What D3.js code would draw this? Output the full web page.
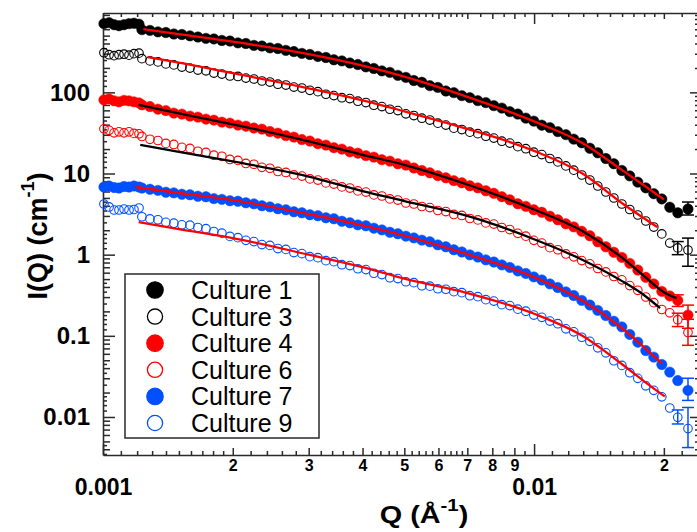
<!DOCTYPE html>
<html>
<head>
<meta charset="utf-8">
<script src="https://cdn.jsdelivr.net/npm/d3@7"></script>
<style>
  body { margin: 0; background: #fff; }
  svg { display: block; font-family: "Liberation Sans", Arial, sans-serif; }
</style>
</head>
<body>
<svg id="chart"></svg>
<script>
// Q values (1/Å) - low-Q setting and main setting
const qLow = [0.001005, 0.001033, 0.001061, 0.001089, 0.001119, 0.001149, 0.001180, 0.001212];
const qMain = [0.001231, 0.001285, 0.001341, 0.001399, 0.001460, 0.001524, 0.001591, 0.001660, 0.001733, 0.001808,
  0.001887, 0.001970, 0.002056, 0.002145, 0.002239, 0.002337, 0.002439, 0.002545, 0.002656, 0.002772,
  0.002893, 0.003019, 0.003151, 0.003289, 0.003432, 0.003582, 0.003738, 0.003901, 0.004072, 0.004249,
  0.004435, 0.004628, 0.004830, 0.005041, 0.005261, 0.005491, 0.005730, 0.005980, 0.006241, 0.006514,
  0.006798, 0.007095, 0.007404, 0.007727, 0.008065, 0.008417, 0.008784, 0.009167, 0.009567, 0.009985,
  0.01042, 0.01088, 0.01135, 0.01185, 0.01236, 0.01290, 0.01347, 0.01405, 0.01467, 0.01531,
  0.01598, 0.01667, 0.01740, 0.01816, 0.01895, 0.01978, 0.02064, 0.02154, 0.02275];

// I(Q) in cm^-1
const culture1Low = [702, 722, 682, 663, 682, 702, 711, 692];
const culture1 = [592, 580, 556, 546, 524, 516, 497, 481, 462, 455, 436, 429, 407, 400, 379, 372, 353, 347, 329, 318,
  302, 293, 277, 269, 252, 244, 230, 220, 206, 197, 184, 176, 162, 153, 140, 133, 121, 115, 104, 99.2,
  91.0, 86.0, 79.0, 74.8, 68.6, 64.0, 57.8, 54.0, 48.1, 44.2, 39.4, 36.8, 32.8, 30.1, 26.5, 23.9, 20.5, 18.0, 15.3, 13.2,
  10.9, 9.35, 7.82, 6.65, 5.64, 4.86, 3.84, 3.28, 3.65];
const culture3Low = [308, 291, 283, 291, 295, 287, 300, 304];
const culture3 = [260, 244, 237, 224, 218, 205, 199, 188, 184, 173, 168, 159, 157, 150, 146, 138, 134, 126, 123, 116,
  113, 106, 102, 94.8, 91.2, 85.9, 83.8, 77.8, 74.9, 69.4, 66.8, 61.9, 59.6, 54.4, 51.8, 48.0, 45.6, 41.7, 39.5, 36.2,
  34.8, 32.3, 31.0, 28.8, 27.3, 25.0, 23.7, 21.4, 20.2, 18.3, 17.1, 15.3, 13.9, 12.4, 11.0, 9.58, 8.31, 7.02, 5.92, 4.99,
  4.21, 3.60, 3.08, 2.60, 2.19, 1.80, 1.39, 1.21, 1.14];
const culture4Low = [80.8, 83.1, 78.6, 76.4, 79.7, 78.6, 76.4, 74.2];
const culture4 = [70.2, 66.8, 62.0, 59.6, 55.5, 53.9, 51.0, 49.5, 46.8, 45.5, 43.0, 41.8, 39.5, 38.3, 36.3, 35.2, 32.9, 31.4, 29.3, 28.1,
  26.2, 25.1, 23.3, 22.4, 20.8, 20.0, 18.5, 17.8, 16.6, 15.9, 14.8, 14.2, 13.2, 12.7, 11.7, 10.9, 10.2, 9.40, 8.85, 8.16,
  7.68, 7.07, 6.66, 6.13, 5.70, 5.18, 4.74, 4.24, 3.94, 3.58, 3.33, 2.98, 2.69, 2.40, 2.20, 1.94, 1.71, 1.44, 1.25, 1.07,
  0.925, 0.782, 0.648, 0.526, 0.436, 0.353, 0.310, 0.273, 0.180];
const culture6Low = [35.5, 34.0, 31.7, 32.6, 31.7, 32.6, 31.2, 30.8];
const culture6 = [28.6, 26.4, 25.5, 23.5, 22.8, 21.0, 20.4, 18.8, 18.2, 16.8, 16.3, 14.9, 14.5, 13.3, 13.0, 11.9, 11.6, 10.6, 10.3, 9.60,
  9.30, 8.58, 8.30, 7.66, 7.41, 6.84, 6.62, 6.10, 5.90, 5.45, 5.28, 4.86, 4.71, 4.33, 4.21, 3.92, 3.80, 3.50, 3.40, 3.13,
  3.04, 2.79, 2.68, 2.46, 2.38, 2.16, 2.04, 1.83, 1.69, 1.50, 1.39, 1.22, 1.15, 1.02, 0.940, 0.845, 0.770, 0.675, 0.613, 0.538,
  0.490, 0.416, 0.364, 0.301, 0.256, 0.211, 0.192, 0.158, 0.110];
const culture7Low = [6.82, 7.02, 6.72, 6.62, 6.92, 6.82, 7.02, 6.82];
const culture7 = [6.62, 6.40, 6.20, 5.88, 5.78, 5.55, 5.47, 5.25, 5.17, 4.90, 4.80, 4.62, 4.55, 4.36, 4.23, 4.01, 3.88, 3.68, 3.57, 3.38,
  3.28, 3.10, 3.02, 2.85, 2.77, 2.58, 2.47, 2.33, 2.27, 2.12, 2.02, 1.89, 1.81, 1.69, 1.61, 1.51, 1.44, 1.32, 1.25, 1.15,
  1.08, 0.995, 0.935, 0.862, 0.812, 0.748, 0.696, 0.630, 0.587, 0.532, 0.488, 0.436, 0.394, 0.348, 0.314, 0.273, 0.240, 0.206, 0.178, 0.151,
  0.129, 0.104, 0.0835, 0.0658, 0.0547, 0.0443, 0.0357, 0.0281, 0.0213];
const culture9Low = [4.21, 3.87, 3.55, 3.55, 3.65, 3.55, 3.60, 3.76];
const culture9 = [2.93, 2.76, 2.69, 2.50, 2.44, 2.33, 2.31, 2.16, 2.09, 1.93, 1.84, 1.68, 1.62, 1.50, 1.45, 1.33, 1.30, 1.19, 1.16, 1.06,
  1.03, 0.945, 0.918, 0.843, 0.820, 0.752, 0.733, 0.671, 0.655, 0.590, 0.568, 0.520, 0.507, 0.464, 0.452, 0.414, 0.409, 0.380, 0.375, 0.350,
  0.340, 0.312, 0.304, 0.279, 0.268, 0.242, 0.236, 0.213, 0.201, 0.180, 0.169, 0.152, 0.141, 0.122, 0.112, 0.0960, 0.0855, 0.0712, 0.0617, 0.0493,
  0.0432, 0.0351, 0.0299, 0.0242, 0.0213, 0.0177, 0.0129, 0.0099, 0.0072];

// error bars on the last points: [index in qMain, low, high]
const culture1Err = [[68, 3.08, 4.45]];
const culture3Err = [[67, 1.00, 1.45], [68, 0.72, 1.60]];
const culture4Err = [[67, 0.23, 0.32], [68, 0.124, 0.239]];
const culture6Err = [[67, 0.13, 0.19], [68, 0.0764, 0.160]];
const culture7Err = [[68, 0.016, 0.030]];
const culture9Err = [[67, 0.0082, 0.0122], [68, 0.0042, 0.0131]];

// model fits
const fitQ1 = [0.00124, 0.0015, 0.002, 0.003, 0.004, 0.005, 0.007, 0.01, 0.013, 0.016, 0.018, 0.020];
const fitI1 = [600, 521, 421, 295, 213, 156, 88.0, 43.9, 23.5, 11.0, 7.11, 4.78];
const fitQ3 = [0.00127, 0.0015, 0.002, 0.003, 0.004, 0.005, 0.007, 0.01, 0.013, 0.016, 0.0193];
const fitI3 = [271, 232, 172, 112, 79.7, 58.3, 35.5, 19.0, 9.86, 4.3, 2.19];
const fitQ4 = [0.00121, 0.0015, 0.002, 0.003, 0.004, 0.005, 0.007, 0.01, 0.013, 0.016, 0.018, 0.020, 0.0214];
const fitI4 = [70.2, 55.1, 40.3, 24.9, 17.0, 12.8, 7.32, 3.60, 1.93, 0.918, 0.543, 0.345, 0.291];
const fitQ6 = [0.00122, 0.0015, 0.002, 0.003, 0.004, 0.005, 0.007, 0.01, 0.013, 0.016, 0.018, 0.0196];
const fitI6 = [22.5, 18.5, 14.1, 9.18, 6.08, 4.58, 3.00, 1.55, 0.855, 0.472, 0.3165, 0.219];
const fitQ7 = [0.00119, 0.0015, 0.002, 0.003, 0.004, 0.005, 0.007, 0.01, 0.013, 0.016, 0.018, 0.0198];
const fitI7 = [6.82, 5.75, 4.71, 3.17, 2.30, 1.72, 1.015, 0.529, 0.268, 0.124, 0.0722, 0.0458];
const fitQ9 = [0.00121, 0.0015, 0.002, 0.003, 0.004, 0.005, 0.007, 0.01, 0.013, 0.016, 0.018, 0.0201];
const fitI9 = [2.525, 2.07, 1.60, 1.00, 0.702, 0.506, 0.3355, 0.187, 0.0986, 0.0446, 0.0275, 0.0179];

const legendLabels = ["Culture 1", "Culture 3", "Culture 4", "Culture 6", "Culture 7", "Culture 9"];

// tick labels
const yTickValues = [0.01, 0.1, 1, 10, 100];
const yTickLabels = ["0.01", "0.1", "1", "10", "100"];
const xMajorValues = [0.001, 0.01];
const xMajorLabels = ["0.001", "0.01"];
const xMidValues = [0.002, 0.003, 0.004, 0.005, 0.006, 0.007, 0.008, 0.009, 0.02];
const xMidLabels = ["2", "3", "4", "5", "6", "7", "8", "9", "2"];

const FONT = '"Liberation Sans", Arial, sans-serif';

class ScatteringPlot {
    constructor(_config, _series, _fits) {
        this.config = {
            parentElement: _config.parentElement,
            containerWidth: _config.containerWidth || 697,
            containerHeight: _config.containerHeight || 532,
            plot: _config.plot || { left: 103, right: 698, top: 13, bottom: 455 },
        };
        this.series = _series;
        this.fits = _fits;
        this.initVis();
    }

    initVis() {
        let vis = this;
        let p = vis.config.plot;

        vis.svg = d3.select(vis.config.parentElement)
            .attr("width", vis.config.containerWidth)
            .attr("height", vis.config.containerHeight);

        vis.x = d3.scaleLog().domain([0.001, 0.024]).range([p.left, p.right]);
        vis.y = d3.scaleLog().domain([0.0034, 950]).range([p.bottom, p.top]);

        // Igor-like log subdivisions: [from, to, step] on the mantissa
        vis.xTicks = vis.buildTicks(vis.x.domain(), [[1, 2, 0.1], [2, 7, 0.2], [7, 10, 0.5]]);
        vis.yTicks = vis.buildTicks(vis.y.domain(), [[1, 2, 0.2], [2, 5, 0.5], [5, 10, 1]]);

        vis.renderVis();
    }

    buildTicks(domain, steps) {
        let major = [], mid = [], minor = [];
        let k0 = Math.floor(Math.log10(domain[0])), k1 = Math.ceil(Math.log10(domain[1]));
        for (let k = k0; k <= k1; k++) {
            let p = Math.pow(10, k);
            steps.forEach(([a, b, s]) => {
                for (let m = a; m < b - 1e-9; m += s) {
                    let mm = Math.round(m * 100) / 100;
                    let v = mm * p;
                    if (v < domain[0] || v > domain[1]) continue;
                    if (mm === 1) major.push(v);
                    else if (Math.abs(mm - Math.round(mm)) < 1e-9) mid.push(v);
                    else minor.push(v);
                }
            });
        }
        return { major, mid, minor };
    }

    styleAxis(g, keepDomain) {
        g.attr("color", "#2a2a2a");
        g.selectAll("line").attr("stroke-width", 1.5);
        g.select(".domain").attr("stroke-width", 1.6);
        if (!keepDomain) g.select(".domain").remove();
    }

    drawAxes() {
        let vis = this;
        let p = vis.config.plot;
        let xt = vis.xTicks, yt = vis.yTicks;

        // left
        [[yt.minor, 4], [yt.mid, 7]].forEach(([vals, len]) => {
            vis.svg.append("g").attr("transform", `translate(${p.left},0)`)
                .call(d3.axisLeft(vis.y).tickValues(vals).tickSize(-len).tickSizeOuter(0).tickFormat(""))
                .call(g => vis.styleAxis(g, false));
        });
        vis.svg.append("g").attr("transform", `translate(${p.left},0)`)
            .call(d3.axisLeft(vis.y).tickValues(yTickValues).tickSize(-12).tickSizeOuter(0).tickPadding(13)
                .tickFormat((d, i) => yTickLabels[i]))
            .call(g => vis.styleAxis(g, true))
            .call(g => g.selectAll("text").attr("fill", "#000").attr("font-size", 24)
                .attr("font-weight", "bold").attr("font-family", FONT));

        // right (mostly outside the picture)
        [[yt.minor, 4], [yt.mid, 7], [yTickValues, 12]].forEach(([vals, len], i) => {
            vis.svg.append("g").attr("transform", `translate(${p.right + 4},0)`)
                .call(d3.axisRight(vis.y).tickValues(vals).tickSize(-len).tickSizeOuter(0).tickFormat(""))
                .call(g => vis.styleAxis(g, i === 2));
        });

        // top
        [[xt.minor, 4], [xt.mid, 6], [xt.major, 11]].forEach(([vals, len], i) => {
            vis.svg.append("g").attr("transform", `translate(0,${p.top})`)
                .call(d3.axisTop(vis.x).tickValues(vals).tickSize(-len).tickSizeOuter(0).tickFormat(""))
                .call(g => vis.styleAxis(g, i === 2));
        });

        // bottom
        vis.svg.append("g").attr("transform", `translate(0,${p.bottom})`)
            .call(d3.axisBottom(vis.x).tickValues(xt.minor).tickSize(-4).tickSizeOuter(0).tickFormat(""))
            .call(g => vis.styleAxis(g, false));
        vis.svg.append("g").attr("transform", `translate(0,${p.bottom})`)
            .call(d3.axisBottom(vis.x).tickValues(xMidValues).tickSize(-7).tickSizeOuter(0).tickPadding(5)
                .tickFormat((d, i) => xMidLabels[i]))
            .call(g => vis.styleAxis(g, false))
            .call(g => g.selectAll("text").attr("fill", "#000").attr("font-size", 16)
                .attr("font-weight", "bold").attr("font-family", FONT));
        vis.svg.append("g").attr("transform", `translate(0,${p.bottom})`)
            .call(d3.axisBottom(vis.x).tickValues(xMajorValues).tickSize(-11).tickSizeOuter(0).tickPadding(24)
                .tickFormat((d, i) => xMajorLabels[i]))
            .call(g => vis.styleAxis(g, true))
            .call(g => g.selectAll("text").attr("fill", "#000").attr("font-size", 23)
                .attr("font-weight", "bold").attr("font-family", FONT));

        // axis titles
        let xt_ = vis.svg.append("g").attr("transform", "translate(424,523) scale(1.2,1)")
            .append("text").attr("text-anchor", "middle").attr("font-size", 24)
            .attr("font-weight", "bold").attr("font-family", FONT);
        xt_.append("tspan").text("Q (Å");
        xt_.append("tspan").attr("font-size", 17).attr("dy", -12).text("-1");
        xt_.append("tspan").attr("dy", 12).text(")");

        let yt_ = vis.svg.append("text").attr("transform", "translate(47,236) rotate(-90)")
            .attr("text-anchor", "middle").attr("font-size", 27)
            .attr("font-weight", "bold").attr("font-family", FONT);
        yt_.append("tspan").text("I(Q) (cm");
        yt_.append("tspan").attr("font-size", 18).attr("dy", -13).text("-1");
        yt_.append("tspan").attr("dy", 13).text(")");
    }

    renderVis() {
        let vis = this;

        vis.drawAxes();

        // data points
        vis.series.forEach(s => {
            let pts = s.q.map((q, i) => [q, s.i[i]]);
            let g = vis.svg.append("g");

            // error bars
            s.err.forEach(([idx, lo, hi]) => {
                let cx = vis.x(qMain[idx]);
                g.append("line").attr("x1", cx).attr("x2", cx)
                    .attr("y1", vis.y(lo)).attr("y2", vis.y(hi))
                    .attr("stroke", s.color).attr("stroke-width", 1.5);
                [lo, hi].forEach(v => {
                    g.append("line").attr("x1", cx - 6).attr("x2", cx + 6)
                        .attr("y1", vis.y(v)).attr("y2", vis.y(v))
                        .attr("stroke", s.color).attr("stroke-width", 1.5);
                });
            });

            g.selectAll("circle").data(pts).join("circle")
                .attr("cx", d => vis.x(d[0]))
                .attr("cy", d => vis.y(d[1]))
                .attr("r", s.filled ? 5.2 : 4.3)
                .attr("fill", s.filled ? s.color : "none")
                .attr("stroke", s.color)
                .attr("stroke-width", s.filled ? 0.5 : 1.1);
        });

        // fitted curves
        let line = d3.line()
            .x(d => vis.x(d[0]))
            .y(d => vis.y(d[1]))
            .curve(d3.curveMonotoneX);
        vis.fits.forEach(f => {
            vis.svg.append("path")
                .attr("d", line(f.q.map((q, i) => [q, f.i[i]])))
                .attr("fill", "none")
                .attr("stroke", f.color)
                .attr("stroke-width", 2.3);
        });

        vis.drawLegend();
    }

    drawLegend() {
        let vis = this;
        let lg = vis.svg.append("g").attr("transform", "translate(125,274)");
        lg.append("rect").attr("width", 194).attr("height", 164)
            .attr("fill", "#fff").attr("stroke", "#2a2a2a").attr("stroke-width", 1.5);

        vis.series.forEach((s, i) => {
            let cy = 16 + i * 26.6;
            lg.append("circle").attr("cx", 30).attr("cy", cy).attr("r", s.filled ? 8.2 : 7.6)
                .attr("fill", s.filled ? s.color : "#fff")
                .attr("stroke", s.color).attr("stroke-width", 1.3);
            lg.append("text").attr("x", 66).attr("y", cy).attr("dy", "0.36em")
                .attr("font-size", 25).attr("font-family", FONT).attr("fill", "#000")
                .text(s.name);
        });
    }
}

const BLUE = "#0050ff";
const allSeries = [
    { name: legendLabels[0], q: qLow.concat(qMain), i: culture1Low.concat(culture1), color: "#000000", filled: true, err: culture1Err },
    { name: legendLabels[1], q: qLow.concat(qMain), i: culture3Low.concat(culture3), color: "#000000", filled: false, err: culture3Err },
    { name: legendLabels[2], q: qLow.concat(qMain), i: culture4Low.concat(culture4), color: "#ff0000", filled: true, err: culture4Err },
    { name: legendLabels[3], q: qLow.concat(qMain), i: culture6Low.concat(culture6), color: "#ff0000", filled: false, err: culture6Err },
    { name: legendLabels[4], q: qLow.concat(qMain), i: culture7Low.concat(culture7), color: BLUE, filled: true, err: culture7Err },
    { name: legendLabels[5], q: qLow.concat(qMain), i: culture9Low.concat(culture9), color: BLUE, filled: false, err: culture9Err },
];
const allFits = [
    { q: fitQ1, i: fitI1, color: "#ff0000" },
    { q: fitQ3, i: fitI3, color: "#ff0000" },
    { q: fitQ4, i: fitI4, color: "#000000" },
    { q: fitQ6, i: fitI6, color: "#000000" },
    { q: fitQ7, i: fitI7, color: "#ff0000" },
    { q: fitQ9, i: fitI9, color: "#ff0000" },
];

new ScatteringPlot({ parentElement: "#chart" }, allSeries, allFits);
</script>
</body>
</html>
